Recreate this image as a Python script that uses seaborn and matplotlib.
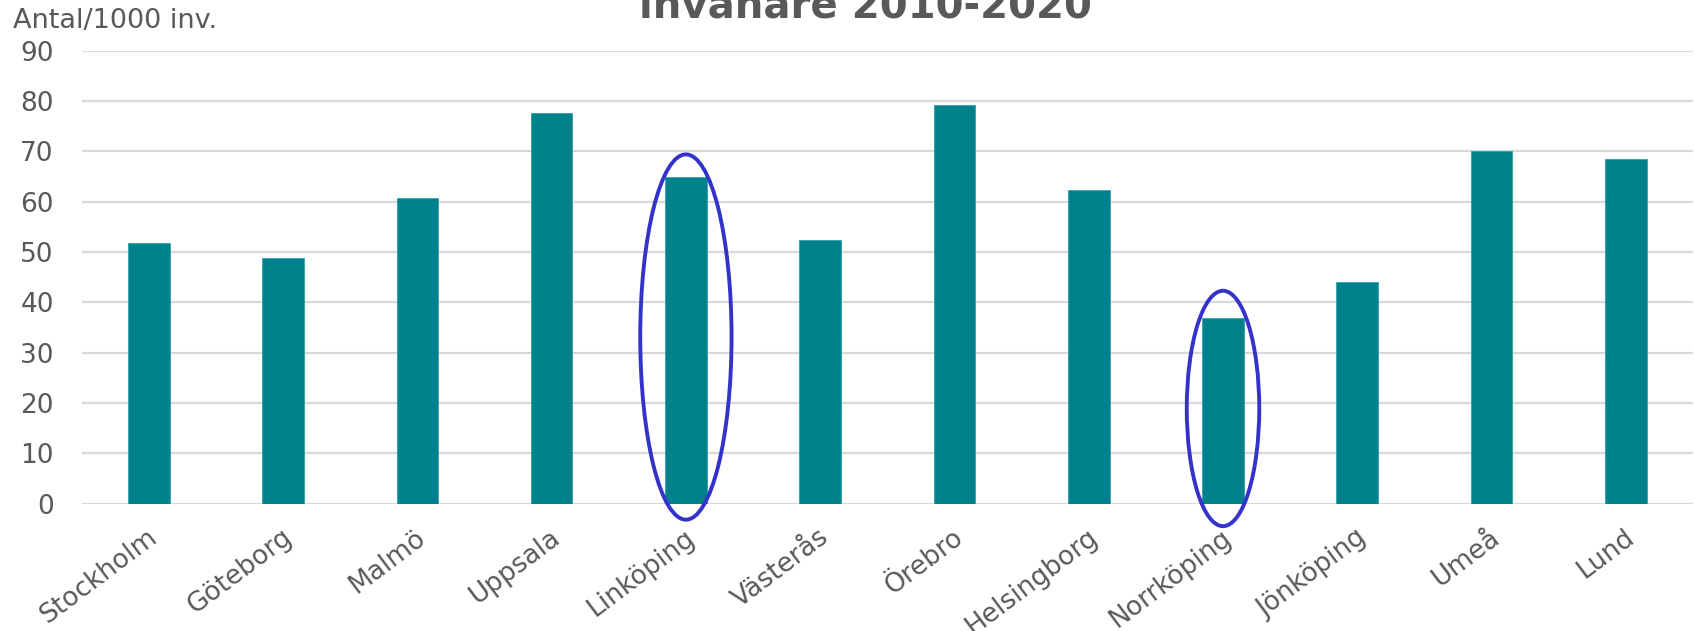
import matplotlib
matplotlib.use("Agg")
import matplotlib.pyplot as plt
import matplotlib.transforms as mtransforms
from matplotlib.patches import Ellipse
import seaborn as sns
import pandas as pd

# ------- DATA -------

cities = ["Stockholm", "Göteborg", "Malmö", "Uppsala", "Linköping", "Västerås",
          "Örebro", "Helsingborg", "Norrköping", "Jönköping", "Umeå", "Lund"]
values = [51.7, 48.9, 60.8, 77.7, 65.0, 52.4, 79.3, 62.3, 36.8, 44.0, 70.0, 68.5]
yticks = [0, 10, 20, 30, 40, 50, 60, 70, 80, 90]
highlighted = ["Linköping", "Norrköping"]
title = "invånare 2010-2020"
unit_label = "Antal/1000 inv."

# ------- STYLE -------

sns.set_theme(style="white")
plt.rcParams['font.family'] = ['DejaVu Sans']
TEXT = "#595959"
BAR = "#00818c"
GRID = "#d9d9d9"
RING = "#3333cc"

df = pd.DataFrame({"city": cities, "value": values})

fig = plt.figure(figsize=(16.94, 6.31), dpi=100)
ax = fig.add_axes([0.0482, 0.202, 0.9512, 0.7175])

sns.barplot(data=df, x="city", y="value", color=BAR, saturation=1,
            width=0.31, edgecolor="#2aa3ad", linewidth=0.6, ax=ax)

ax.set_ylim(0, 90)
ax.set_xlim(-0.5, len(cities) - 0.5)
ax.set_yticks(yticks)
ax.yaxis.grid(True, color=GRID, linewidth=1.6)
ax.set_axisbelow(True)
for s in ax.spines.values():
    s.set_visible(False)
ax.set_xlabel("")
ax.set_ylabel("")

ax.tick_params(axis="y", length=0, pad=20, labelsize=19, labelcolor=TEXT)
ax.tick_params(axis="x", length=0, pad=15, labelsize=19, labelcolor=TEXT)
shift = mtransforms.ScaledTranslation(-2 / 100, 0, fig.dpi_scale_trans)
for lab in ax.get_xticklabels():
    lab.set_rotation(37)
    lab.set_rotation_mode("anchor")
    lab.set_ha("right")
    lab.set_va("top")
    lab.set_transform(lab.get_transform() + shift)

# rings round the highlighted bars
ring_sizes = {"Linköping": (0.68, 72.6, 33.1), "Norrköping": (0.54, 46.8, 18.9)}
for name in highlighted:
    w, h, cy = ring_sizes[name]
    e = Ellipse((cities.index(name), cy), w, h, fill=False, edgecolor=RING,
                linewidth=2.8, clip_on=False, zorder=5)
    ax.add_patch(e)

# title sits partly above the picture edge, as in the source
fig.text(0.5106, 1 - 18 / 631, title, ha="center", va="baseline",
         fontsize=29, fontweight="bold", color=TEXT)
fig.text(13 / 1694, 1 - 28 / 631, unit_label, ha="left", va="baseline",
         fontsize=19.5, color=TEXT)

fig.savefig("out.png", dpi=100)
